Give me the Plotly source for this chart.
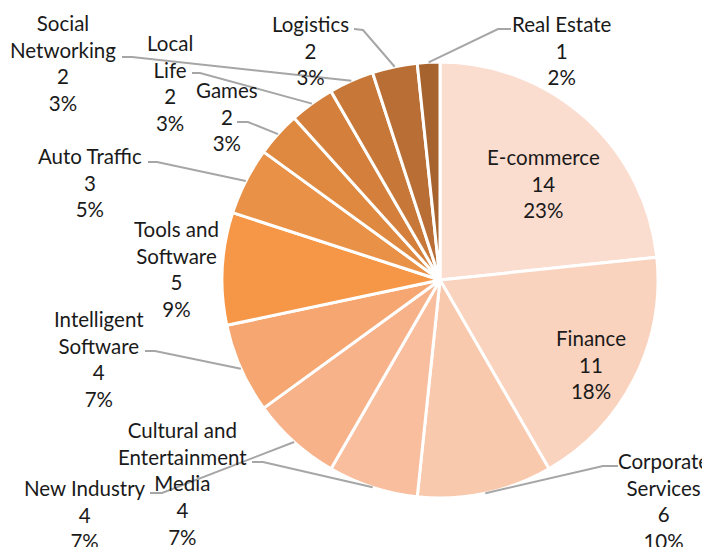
import math
import plotly.graph_objects as go

# ---- data ----
categories = ["E-commerce", "Finance", "Corporate Services",
              "Cultural and Entertainment Media", "New Industry",
              "Intelligent Software", "Tools and Software", "Auto Traffic",
              "Games", "Local Life", "Social Networking", "Logistics",
              "Real Estate"]
values = [14, 11, 6, 4, 4, 4, 5, 3, 2, 2, 2, 2, 1]
percent_labels = ["23%", "18%", "10%", "7%", "7%", "7%", "9%", "5%",
                  "3%", "3%", "3%", "3%", "2%"]
# how each category name is wrapped in its label
label_lines = ["E-commerce", "Finance", "Corporate<br>Services",
               "Cultural and<br>Entertainment<br>Media", "New Industry",
               "Intelligent<br>Software", "Tools and<br>Software",
               "Auto Traffic", "Games", "Local<br>Life",
               "Social<br>Networking", "Logistics", "Real Estate"]

# ---- style ----
colors = ["#FBDDD0", "#FAD3BF", "#F9C9AE", "#F8BE9E", "#F7B28A", "#F6A670",
          "#F59747", "#EA9148", "#DF8940", "#D4803C", "#C77839", "#B86E35",
          "#A7632D"]
OFF = 8                      # page body margin the figure sits inside
W, H = 710 - OFF, 547 - OFF  # figure size
CX, CY, R = 440, 280, 218    # pie centre / radius in window pixels

# label block centre (window pixels) for each category
label_pos = [(543, 184), (591, 364.5), (663, 500.5), (182, 483), (85, 514),
             (99, 359), (176, 269), (90, 182.5), (227, 116.5), (170, 82.5),
             (63, 63.5), (310, 50.5), (562, 51)]
# leader line: label-side point and elbow (window pixels); None = no leader
leaders = [None, None, [(618, 466), (603, 466)], [(252, 462), (263, 462)],
           [(150, 493), (162, 493)], [(145, 351), (155, 351)], None,
           [(148, 162), (157, 162)], [(237, 122), (248, 122)],
           [(192, 73), (200, 73)], [(122, 57), (132, 57)],
           [(354, 29), (363, 30)], [(511, 29), (498, 29)]]


def px(x):
    return (x - OFF) / W


def py(y):
    return 1 - (y - OFF) / H


fig = go.Figure(go.Pie(
    labels=categories,
    values=values,
    sort=False,
    direction="clockwise",
    rotation=0,
    textinfo="none",
    hoverinfo="label+value+percent",
    marker=dict(colors=colors, line=dict(color="white", width=3)),
    domain=dict(x=[px(CX - R), px(CX + R)], y=[py(CY + R), py(CY - R)]),
    showlegend=False,
))

annotations = []
shapes = []
total = sum(values)
cum = 0
for i, v in enumerate(values):
    mid = (cum + v / 2) / total * 2 * math.pi
    cum += v
    ex = CX + R * math.sin(mid)
    ey = CY - R * math.cos(mid)
    lx, ly = label_pos[i]
    annotations.append(dict(
        x=px(lx), y=py(ly), xref="paper", yref="paper",
        text=f"{label_lines[i]}<br>{v}<br>{percent_labels[i]}",
        showarrow=False, xanchor="center", yanchor="middle", align="center",
        font=dict(family="Lato, Calibri, sans-serif", size=20.5,
                  color="#1a1a1a"),
    ))
    if leaders[i]:
        (ax, ay), (bx, by) = leaders[i]
        path = (f"M {px(ax)},{py(ay)} L {px(bx)},{py(by)} "
                f"L {px(ex)},{py(ey)}")
        shapes.append(dict(type="path", path=path, xref="paper",
                           yref="paper",
                           line=dict(color="#A6A6A6", width=2)))

fig.update_layout(
    width=W, height=H,
    margin=dict(l=0, r=0, t=0, b=0),
    paper_bgcolor="white", plot_bgcolor="white",
    annotations=annotations, shapes=shapes,
)

fig.write_html("out.html")
